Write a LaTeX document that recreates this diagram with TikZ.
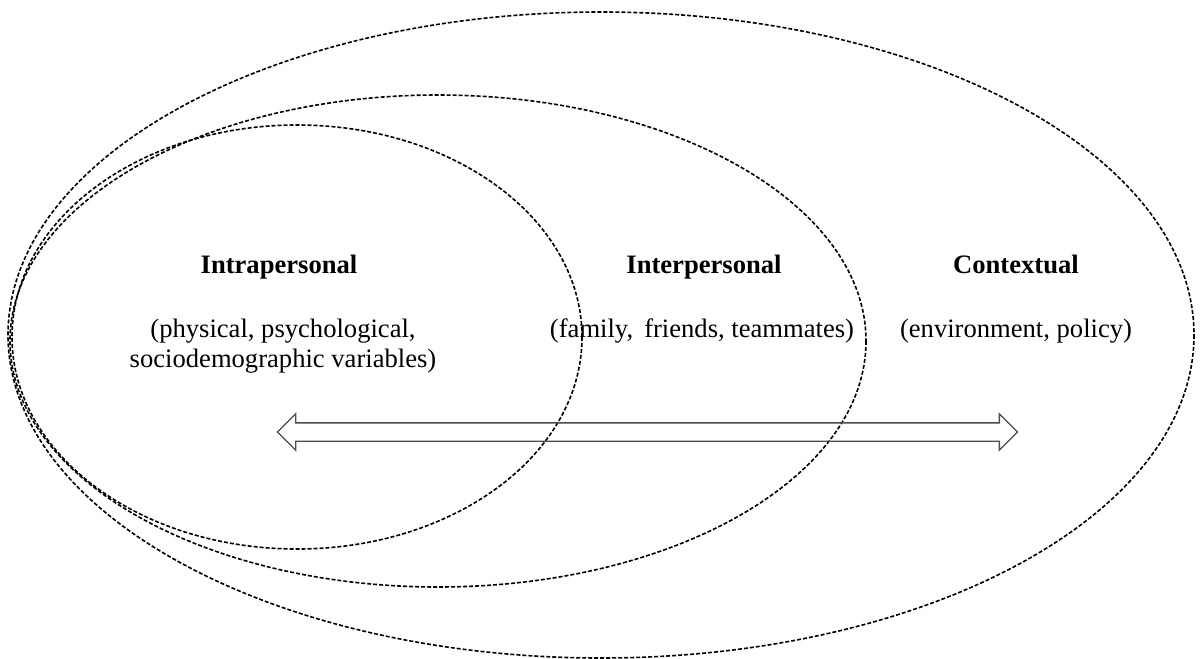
\documentclass[tikz,border=0pt]{standalone}
\usepackage{fontspec}
\setmainfont{Liberation Serif}
\usetikzlibrary{shapes.arrows}
\tikzset{ring/.style={draw=black,dash pattern=on 4pt off 2pt,line width=1.6pt},
 head/.style={anchor=base,font=\fontsize{26.6}{30}\selectfont\bfseries},
 body/.style={anchor=base,font=\fontsize{26.6}{30}\selectfont,align=center}}

\begin{document}
\begin{tikzpicture}[x=1pt,y=-1pt]
\useasboundingbox (0,0) rectangle (1203,659);
% nested levels
\draw[ring] (601,335) ellipse (593 and 323);
\draw[ring] (438,341) ellipse (428 and 246);
\draw[ring] (297,337) ellipse (285 and 212);
% labels
\node[head] (intra) at (279,273) {Intrapersonal};
\node[body] (intravar) at (283,367) {(physical, psychological,\\sociodemographic variables)};
\node[head] (inter) at (704,273) {Interpersonal};
\node[body] (intervar) at (702,337) {(family,\, friends, teammates)};
\node[head] (context) at (1016,273) {Contextual};
\node[body] (contextvar) at (1016,337) {(environment, policy)};
% two-way arrow
\node[double arrow,draw=black!70,line width=1.3pt,
 minimum height=740,minimum width=35,inner sep=0pt,inner ysep=8.5pt,
 double arrow head extend=9pt] (span) at (647.5,432) {};
\end{tikzpicture}
\end{document}
